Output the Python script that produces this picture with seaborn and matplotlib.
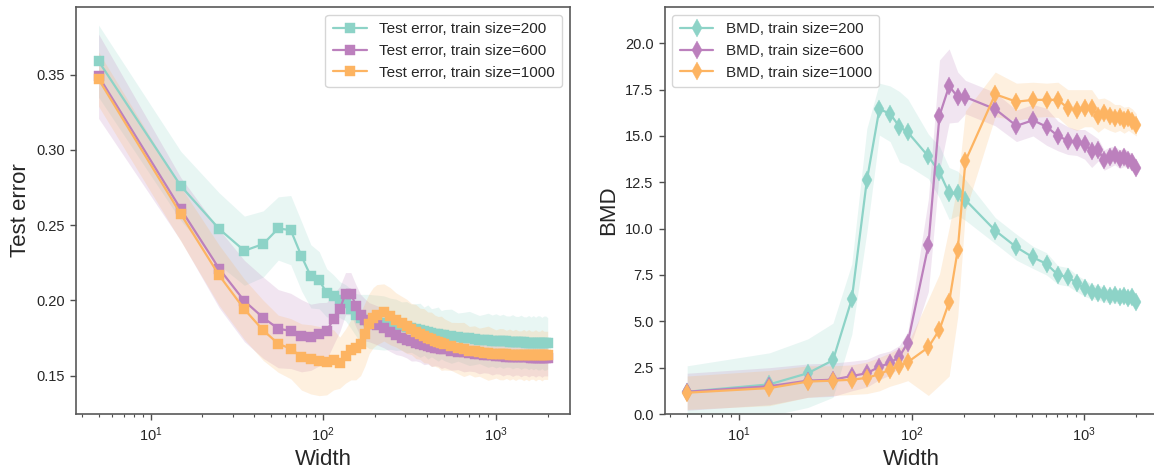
import numpy as np
import pandas as pd
import matplotlib
matplotlib.use("Agg")
import matplotlib.pyplot as plt
import seaborn as sns

# ---------------- data ----------------
labels_sizes = ["200", "600", "1000"]
colors = ["#8dd3c7", "#bc80bd", "#fdb462"]

widths_left = [5, 15, 25, 35, 45, 55, 65, 75, 85, 95,
               105, 115, 125, 135, 145, 155, 165, 175, 185, 195,
               205, 225, 245, 265, 285, 305, 325, 345, 365, 385,
               405, 425, 445, 465, 485,
               505, 555, 605, 655, 705, 755, 805, 855, 905, 955,
               1005, 1055, 1105, 1155, 1205, 1255, 1305, 1355, 1405, 1455,
               1505, 1555, 1605, 1655, 1705, 1755, 1805, 1855, 1905, 1955, 2005]

err_200 = [0.359, 0.276, 0.2475, 0.233, 0.2375, 0.2478, 0.2467, 0.2294, 0.216, 0.2134,
           0.205, 0.203, 0.2005, 0.1985, 0.1945, 0.1905, 0.188, 0.187, 0.186, 0.1857,
           0.1855, 0.185, 0.1845, 0.1838, 0.183, 0.1822, 0.1815, 0.1808, 0.1801, 0.1795,
           0.179, 0.1785, 0.178, 0.1776, 0.1772,
           0.1769, 0.1762, 0.1756, 0.1751, 0.1747, 0.1743, 0.174, 0.1737, 0.1735, 0.1733,
           0.1731, 0.173, 0.1728, 0.1727, 0.1726, 0.1725, 0.1724, 0.1723, 0.1722, 0.1721,
           0.172, 0.172, 0.1719, 0.1719, 0.1718, 0.1718, 0.1717, 0.1717, 0.1716, 0.1716, 0.1715]
err_600 = [0.349, 0.2606, 0.2211, 0.1996, 0.1885, 0.1812, 0.1797, 0.1765, 0.1755, 0.1775,
           0.1797, 0.1875, 0.1941, 0.2045, 0.2045, 0.1965, 0.19, 0.187, 0.1855, 0.1845,
           0.1835, 0.1815, 0.179, 0.177, 0.1752, 0.1738, 0.1727, 0.1718, 0.171, 0.1703,
           0.1697, 0.1691, 0.1686, 0.1682, 0.1678,
           0.1674, 0.1666, 0.166, 0.1655, 0.165, 0.1646, 0.1642, 0.1639, 0.1636, 0.1634,
           0.1632, 0.163, 0.1628, 0.1627, 0.1626, 0.1625, 0.1624, 0.1623, 0.1622, 0.1622,
           0.1621, 0.1621, 0.162, 0.162, 0.162, 0.1619, 0.1619, 0.1619, 0.1618, 0.1618, 0.1618]
err_1000 = [0.347, 0.2573, 0.2167, 0.1941, 0.1801, 0.1712, 0.1679, 0.1624, 0.1608, 0.1597,
            0.1592, 0.1605, 0.1586, 0.163, 0.1672, 0.1682, 0.171, 0.1775, 0.1845, 0.1885,
            0.1905, 0.192, 0.1895, 0.187, 0.1848, 0.1828, 0.181, 0.1793, 0.1778, 0.1765,
            0.1753, 0.1742, 0.1732, 0.1723, 0.1715,
            0.1708, 0.1694, 0.1683, 0.1674, 0.1667, 0.1661, 0.1656, 0.1652, 0.1649, 0.1646,
            0.1644, 0.1643, 0.1642, 0.1641, 0.164, 0.1639, 0.1638, 0.1638, 0.1637, 0.1637,
            0.1636, 0.1636, 0.1636, 0.1636, 0.1635, 0.1635, 0.1635, 0.1635, 0.1635, 0.1635, 0.1635]

err_200_hw = [0.024, 0.023, 0.024, 0.023, 0.022, 0.021, 0.023, 0.023, 0.021, 0.019,
              0.016, 0.014, 0.012, 0.012, 0.013, 0.014, 0.016, 0.017, 0.018, 0.018,
              0.018, 0.018, 0.017, 0.017, 0.016, 0.017, 0.016, 0.017, 0.018, 0.016,
              0.018, 0.016, 0.017, 0.018, 0.016,
              0.017, 0.018, 0.016, 0.017, 0.018, 0.017, 0.016, 0.017, 0.018, 0.017,
              0.018, 0.017, 0.018, 0.017, 0.017, 0.018, 0.017, 0.017, 0.018, 0.017,
              0.017, 0.018, 0.017, 0.018, 0.017, 0.018, 0.018, 0.017, 0.018, 0.018, 0.017]
err_600_hw = [0.028, 0.021, 0.026, 0.027, 0.027, 0.026, 0.025, 0.024, 0.022, 0.021,
              0.019, 0.017, 0.015, 0.014, 0.014, 0.014, 0.014, 0.014, 0.013, 0.013,
              0.013, 0.013, 0.013, 0.013, 0.012, 0.012, 0.013, 0.012, 0.012, 0.013,
              0.012, 0.013, 0.012, 0.012, 0.013,
              0.012, 0.013, 0.012, 0.013, 0.012, 0.012, 0.013, 0.012, 0.012, 0.013,
              0.012, 0.012, 0.013, 0.012, 0.012, 0.013, 0.012, 0.012, 0.013, 0.012,
              0.012, 0.013, 0.012, 0.012, 0.013, 0.012, 0.012, 0.013, 0.012, 0.012, 0.012]
err_1000_hw = [0.018, 0.018, 0.02, 0.02, 0.02, 0.019, 0.02, 0.022, 0.023, 0.023,
               0.022, 0.02, 0.017, 0.018, 0.02, 0.021, 0.021, 0.021, 0.02, 0.02,
               0.02, 0.019, 0.019, 0.018, 0.018, 0.018, 0.017, 0.018, 0.017, 0.018,
               0.017, 0.018, 0.017, 0.017, 0.018,
               0.017, 0.016, 0.017, 0.018, 0.016, 0.017, 0.016, 0.017, 0.018, 0.017,
               0.016, 0.017, 0.017, 0.016, 0.017, 0.016, 0.017, 0.016, 0.016, 0.017,
               0.016, 0.017, 0.016, 0.016, 0.017, 0.016, 0.016, 0.017, 0.016, 0.016, 0.016]

widths_right = [5, 15, 25, 35, 45, 55, 65, 75, 85, 95,
                125, 145, 165, 185, 205,
                305, 405, 505, 605, 705, 805, 905,
                1005, 1105, 1205, 1305, 1405, 1505, 1605, 1705, 1805, 1905, 2005]

bmd_200 = [1.2, 1.6, 2.2, 2.9, 6.2, 12.6, 16.45, 16.2, 15.5, 15.2,
           13.9, 13.05, 11.9, 11.9, 11.55,
           9.9, 9.0, 8.45, 8.1, 7.5, 7.4, 7.05,
           6.8, 6.6, 6.55, 6.45, 6.35, 6.4, 6.3, 6.35, 6.25, 6.3, 6.05]
bmd_600 = [1.2, 1.5, 1.8, 1.85, 2.05, 2.2, 2.55, 2.75, 3.1, 3.85,
           9.1, 16.1, 17.7, 17.1, 17.1,
           16.45, 15.55, 15.85, 15.5, 15.0, 14.75, 14.65,
           14.55, 14.2, 14.25, 13.7, 13.85, 13.95, 13.75, 13.85, 13.7, 13.6, 13.3]
bmd_1000 = [1.15, 1.4, 1.75, 1.8, 1.85, 1.95, 2.15, 2.4, 2.6, 2.8,
            3.6, 4.55, 6.05, 8.85, 13.65,
            17.25, 16.85, 16.95, 16.95, 16.95, 16.5, 16.4,
            16.5, 16.5, 16.1, 16.25, 16.1, 15.95, 16.0, 15.85, 15.95, 15.8, 15.6]

bmd_200_hw = [1.4, 1.7, 1.85, 2.0, 1.9, 2.8, 1.4, 1.5, 1.9, 1.8,
              1.2, 1.4, 1.4, 1.2, 1.1,
              0.7, 0.7, 0.6, 0.6, 0.5, 0.5, 0.45,
              0.45, 0.4, 0.4, 0.4, 0.35, 0.4, 0.35, 0.35, 0.35, 0.35, 0.3]
bmd_600_hw = [1.0, 1.0, 0.9, 0.9, 0.8, 0.75, 0.7, 0.65, 0.6, 0.6,
              2.5, 3.0, 2.0, 1.35, 0.9,
              0.9, 0.85, 0.85, 1.0, 0.8, 0.75, 0.7,
              0.8, 0.9, 0.6, 0.55, 0.55, 0.5, 0.5, 0.5, 0.45, 0.45, 0.4]
bmd_1000_hw = [0.9, 0.95, 0.85, 0.8, 0.8, 0.85, 0.9, 0.9, 0.95, 1.0,
               2.6, 3.0, 4.0, 3.6, 2.7,
               1.2, 1.0, 0.95, 0.9, 0.95, 1.0, 1.1,
               1.0, 1.0, 0.9, 0.8, 0.8, 0.75, 0.7, 0.7, 0.65, 0.65, 0.6]

# ---------------- style ----------------
sns.set_theme(style="ticks")
plt.rcParams["font.family"] = ["Liberation Sans", "DejaVu Sans"]
plt.rcParams["mathtext.default"] = "regular"
plt.rcParams["axes.edgecolor"] = "0.35"
plt.rcParams["axes.linewidth"] = 1.2
for k in ["xtick", "ytick"]:
    plt.rcParams[f"{k}.color"] = "0.3"
    plt.rcParams[f"{k}.labelcolor"] = "0.15"
    plt.rcParams[f"{k}.major.size"] = 4.5
    plt.rcParams[f"{k}.minor.size"] = 2.5
    plt.rcParams[f"{k}.major.width"] = 1.0
    plt.rcParams[f"{k}.minor.width"] = 0.8
    plt.rcParams[f"{k}.labelsize"] = 10.5

W, H = 1154, 470
fig = plt.figure(figsize=(W / 100, H / 100), dpi=100)
ax1 = fig.add_axes([76 / W, 56 / H, 494 / W, 407 / H])
ax2 = fig.add_axes([664.6 / W, 56 / H, 494 / W, 407 / H])

left_series = [err_200, err_600, err_1000]
left_hw = [err_200_hw, err_600_hw, err_1000_hw]
right_series = [bmd_200, bmd_600, bmd_1000]
right_hw = [bmd_200_hw, bmd_600_hw, bmd_1000_hw]

wl = np.array(widths_left)
wr = np.array(widths_right)

for y, hw, c, s in zip(left_series, left_hw, colors, labels_sizes):
    y = np.array(y); hw = np.array(hw)
    ax1.fill_between(wl, y - hw, y + hw, color=c, alpha=0.2, lw=0)
    sns.lineplot(x=wl, y=y, ax=ax1, color=c, marker="s", markersize=7,
                 markeredgecolor=c, markeredgewidth=0.3, lw=1.6,
                 label=f"Test error, train size={s}", errorbar=None, sort=False)

for y, hw, c, s in zip(right_series, right_hw, colors, labels_sizes):
    y = np.array(y); hw = np.array(hw)
    ax2.fill_between(wr, y - hw, y + hw, color=c, alpha=0.2, lw=0)
    sns.lineplot(x=wr, y=y, ax=ax2, color=c, marker="d", markersize=9,
                 markeredgecolor=c, markeredgewidth=0.3, lw=1.6,
                 label=f"BMD, train size={s}", errorbar=None, sort=False)

for ax in (ax1, ax2):
    ax.set_xscale("log")
    ax.set_xlim(3.7, 2700)
    ax.set_xlabel("Width", fontsize=16, color="0.15")
    for sp in ax.spines.values():
        sp.set_visible(True)

ax1.set_ylim(0.1245, 0.395)
ax1.set_yticks([0.15, 0.20, 0.25, 0.30, 0.35])
ax1.set_ylabel("Test error", fontsize=16, color="0.15")
ax2.set_ylim(0, 21.96)
ax2.set_yticks([0.0, 2.5, 5.0, 7.5, 10.0, 12.5, 15.0, 17.5, 20.0])
ax2.set_yticklabels(["0.0", "2.5", "5.0", "7.5", "10.0", "12.5", "15.0", "17.5", "20.0"])
ax2.set_ylabel("BMD", fontsize=16, color="0.15")

leg1 = ax1.legend(loc="upper right", fontsize=11, frameon=True,
                  borderpad=0.5, handlelength=2.2, handletextpad=0.8)
leg2 = ax2.legend(loc="upper left", fontsize=11, frameon=True,
                  borderpad=0.5, handlelength=2.2, handletextpad=0.8)
for lg in (leg1, leg2):
    lg.get_frame().set_edgecolor("0.8")
    for t in lg.get_texts():
        t.set_color("0.15")

fig.savefig("out.png", dpi=100)
